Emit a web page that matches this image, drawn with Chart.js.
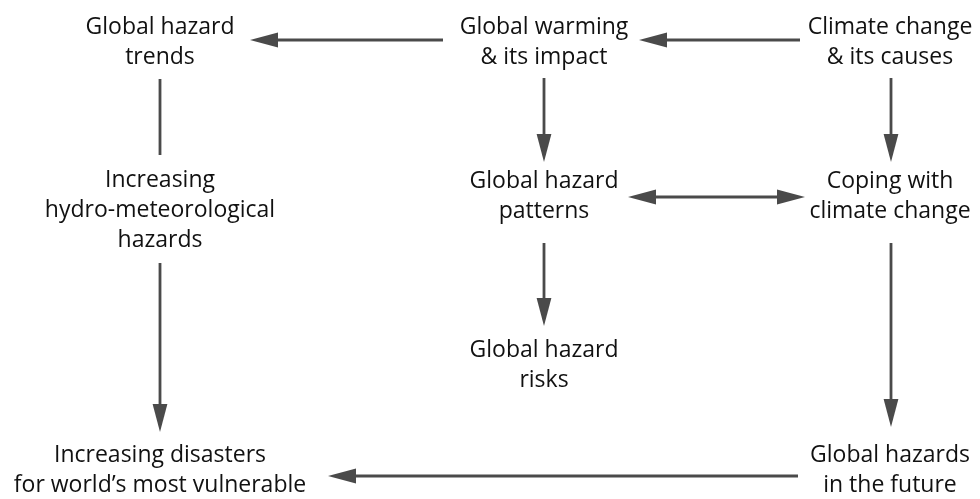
<!DOCTYPE html>
<html lang="en">
<head>
    <meta charset="UTF-8">
    <title>Global hazards flow</title>
    <script src="https://cdn.jsdelivr.net/npm/chart.js@4.4.1/dist/chart.umd.min.js"></script>
    <style>
        html, body { margin: 0; padding: 0; background: #ffffff; }
        #chart { display: block; }
    </style>
</head>
<body>
    <canvas id="chart" width="980" height="499"></canvas>

    <script>
        // nodes of the diagram (text lines, centre x, baseline of first line)
        const nodeLabels = [
            ['Global hazard', 'trends'],
            ['Global warming', '& its impact'],
            ['Climate change', '& its causes'],
            ['Increasing', 'hydro-meteorological', 'hazards'],
            ['Global hazard', 'patterns'],
            ['Coping with', 'climate change'],
            ['Global hazard', 'risks'],
            ['Increasing disasters', 'for world\u2019s most vulnerable'],
            ['Global hazards', 'in the future']
        ];
        const nodeX = [160, 544, 890, 160, 544, 890, 544, 160, 890];
        const nodeY = [34, 34, 34, 187, 188, 188, 357, 462, 462];

        // connectors: start point, end point, which ends get a head
        const edgeFromX = [443, 800, 160, 160, 544, 891, 628, 544, 891, 798];
        const edgeFromY = [40, 40, 79, 263, 78, 78, 197, 243, 243, 476];
        const edgeToX   = [250, 639, 160, 160, 544, 891, 805, 544, 891, 328];
        const edgeToY   = [40, 40, 155, 432, 162, 162, 197, 326, 427, 476];
        const edgeHeads = ['end', 'end', 'none', 'end', 'end', 'end', 'both', 'end', 'end', 'end'];

        const LINE_COLOR = '#4a4a4a';
        const TEXT_COLOR = '#111111';
        const HEAD_LEN = 28;   // in axis units (1 unit = 1 px here)
        const HEAD_HALF = 7.4;
        const LINE_GAP = 30;
        const FONT = '23px "Open Sans"';

        // shaft of each connector, pulled back where a head sits
        function shaftPoints(i) {
            const dx = edgeToX[i] - edgeFromX[i];
            const dy = edgeToY[i] - edgeFromY[i];
            const len = Math.hypot(dx, dy);
            const ux = dx / len, uy = dy / len;
            const cut = HEAD_LEN - 3;
            let a = { x: edgeFromX[i], y: edgeFromY[i] };
            let b = { x: edgeToX[i], y: edgeToY[i] };
            if (edgeHeads[i] === 'end' || edgeHeads[i] === 'both') {
                b = { x: b.x - ux * cut, y: b.y - uy * cut };
            }
            if (edgeHeads[i] === 'both') {
                a = { x: a.x + ux * cut, y: a.y + uy * cut };
            }
            return [a, b];
        }

        const datasets = edgeFromX.map((_, i) => ({
            data: shaftPoints(i),
            showLine: true,
            borderColor: LINE_COLOR,
            borderWidth: 2.8,
            borderCapStyle: 'butt',
            pointRadius: 0
        }));

        // anchor points for the boxes (not shown)
        datasets.push({
            data: nodeX.map((x, i) => ({ x: x, y: nodeY[i] })),
            pointRadius: 0,
            showLine: false
        });

        function drawHead(ctx, xs, ys, tipX, tipY, backX, backY) {
            const tx = xs.getPixelForValue(tipX), ty = ys.getPixelForValue(tipY);
            const bx = xs.getPixelForValue(backX), by = ys.getPixelForValue(backY);
            const len = Math.hypot(tx - bx, ty - by);
            const ux = (tx - bx) / len, uy = (ty - by) / len;
            const baseX = tx - ux * HEAD_LEN, baseY = ty - uy * HEAD_LEN;
            ctx.beginPath();
            ctx.moveTo(tx, ty);
            ctx.lineTo(baseX - uy * HEAD_HALF, baseY + ux * HEAD_HALF);
            ctx.lineTo(baseX + uy * HEAD_HALF, baseY - ux * HEAD_HALF);
            ctx.closePath();
            ctx.fill();
        }

        const diagramPlugin = {
            id: 'diagram',
            afterDatasetsDraw(chart) {
                const ctx = chart.ctx;
                const xs = chart.scales.x, ys = chart.scales.y;
                ctx.save();
                ctx.fillStyle = LINE_COLOR;
                edgeHeads.forEach((h, i) => {
                    if (h === 'end' || h === 'both') {
                        drawHead(ctx, xs, ys, edgeToX[i], edgeToY[i], edgeFromX[i], edgeFromY[i]);
                    }
                    if (h === 'both') {
                        drawHead(ctx, xs, ys, edgeFromX[i], edgeFromY[i], edgeToX[i], edgeToY[i]);
                    }
                });

                ctx.fillStyle = TEXT_COLOR;
                ctx.font = FONT;
                ctx.textAlign = 'center';
                ctx.textBaseline = 'alphabetic';
                nodeLabels.forEach((lines, i) => {
                    lines.forEach((t, j) => {
                        ctx.fillText(t, xs.getPixelForValue(nodeX[i]), ys.getPixelForValue(nodeY[i] + j * LINE_GAP));
                    });
                });
                ctx.restore();
            }
        };

        new Chart(document.getElementById('chart'), {
            type: 'scatter',
            data: { datasets: datasets },
            options: {
                responsive: false,
                animation: false,
                events: [],
                layout: { padding: 0 },
                plugins: {
                    legend: { display: false },
                    tooltip: { enabled: false }
                },
                scales: {
                    x: { type: 'linear', min: 0, max: 980, display: false },
                    y: { type: 'linear', min: 0, max: 499, reverse: true, display: false }
                }
            },
            plugins: [diagramPlugin]
        });
    </script>
</body>
</html>
